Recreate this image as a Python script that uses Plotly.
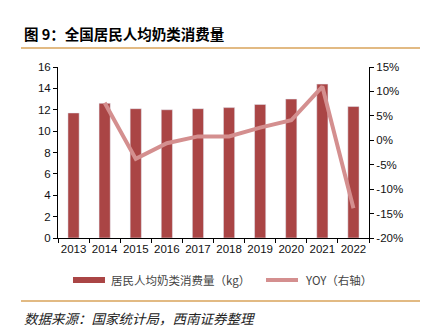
import plotly.graph_objects as go

years = ["2013", "2014", "2015", "2016", "2017", "2018", "2019", "2020", "2021", "2022"]
consumption = [11.7, 12.6, 12.1, 12.0, 12.1, 12.2, 12.5, 13.0, 14.4, 12.3]
yoy = [None, 7.7, -3.8, -0.6, 0.8, 0.8, 2.6, 4.1, 11.0, -13.9]
left_ticks = [0, 2, 4, 6, 8, 10, 12, 14, 16]
right_ticks = [-20, -15, -10, -5, 0, 5, 10, 15]
right_labels = [f"{v}%" for v in right_ticks]
series_names = ["居民人均奶类消费量（kg）", "YOY（右轴）"]

BAR = "#AA4545"
LINE = "#D48F8F"
TICKFONT = dict(family="Liberation Sans, Arial, sans-serif", size=11.5, color="#111")
CJK = "Noto Sans CJK SC"

fig = go.Figure()
fig.add_trace(go.Bar(x=years, y=consumption, marker_color=BAR, width=0.36,
                     name=series_names[0], showlegend=False, yaxis="y"))
fig.add_trace(go.Scatter(x=years, y=yoy, mode="lines", line=dict(color=LINE, width=4),
                         name=series_names[1], showlegend=False, yaxis="y2"))

fig.update_layout(
    width=428, height=334,
    margin=dict(l=58, r=59, t=67, b=96),
    paper_bgcolor="white", plot_bgcolor="white",
    showlegend=False,
    xaxis=dict(type="category", showline=True, linecolor="#000", linewidth=1,
               ticks="outside", tickson="boundaries", ticklen=4, tickcolor="#000",
               tickfont=TICKFONT, tickangle=0, showgrid=False, automargin=False),
    yaxis=dict(range=[0, 16], tickvals=left_ticks, showline=True, linecolor="#000",
               ticks="outside", ticklen=4, tickcolor="#000", tickfont=TICKFONT,
               showgrid=False, zeroline=False, automargin=False),
    yaxis2=dict(range=[-20, 15], tickvals=right_ticks, ticktext=right_labels, overlaying="y",
                side="right", showline=True, linecolor="#000", ticks="outside",
                ticklen=4, tickcolor="#000", tickfont=TICKFONT, showgrid=False,
                zeroline=False, automargin=False),
)

# manual legend
ly = -0.2456
fig.add_shape(type="line", xref="paper", yref="paper", x0=0.0482, x1=0.1511, y0=ly, y1=ly,
              line=dict(color=BAR, width=6))
fig.add_annotation(text=series_names[0], xref="paper", yref="paper", x=0.164, y=ly,
                   xanchor="left", yanchor="middle", showarrow=False,
                   font=dict(family=CJK, size=11.5, color="#444"))
fig.add_shape(type="line", xref="paper", yref="paper", x0=0.6688, x1=0.7717, y0=ly, y1=ly,
              line=dict(color=LINE, width=4))
fig.add_annotation(text=series_names[1], xref="paper", yref="paper", x=0.7878, y=ly,
                   xanchor="left", yanchor="middle", showarrow=False,
                   font=dict(family=CJK, size=11.5, color="#444"))

fig.add_annotation(text="<b>图 9：全国居民人均奶类消费量</b>", xref="paper", yref="paper",
                   x=-0.1158, y=1.193, xanchor="left", yanchor="middle", showarrow=False,
                   font=dict(family=CJK, size=14.5, color="#000"))
fig.add_shape(type="line", xref="paper", yref="paper", x0=-0.119, x1=1.164, y0=1.111, y1=1.111,
              line=dict(color="#D9A35A", width=1.5))
fig.add_shape(type="line", xref="paper", yref="paper", x0=-0.119, x1=1.164, y0=-0.368, y1=-0.368,
              line=dict(color="#D9A35A", width=1.5))
fig.add_annotation(text="<i>数据来源：国家统计局，西南证券整理</i>", xref="paper", yref="paper",
                   x=-0.1158, y=-0.468, xanchor="left", yanchor="middle", showarrow=False,
                   font=dict(family=CJK, size=13.5, color="#222"))

fig.write_html("out.html")
